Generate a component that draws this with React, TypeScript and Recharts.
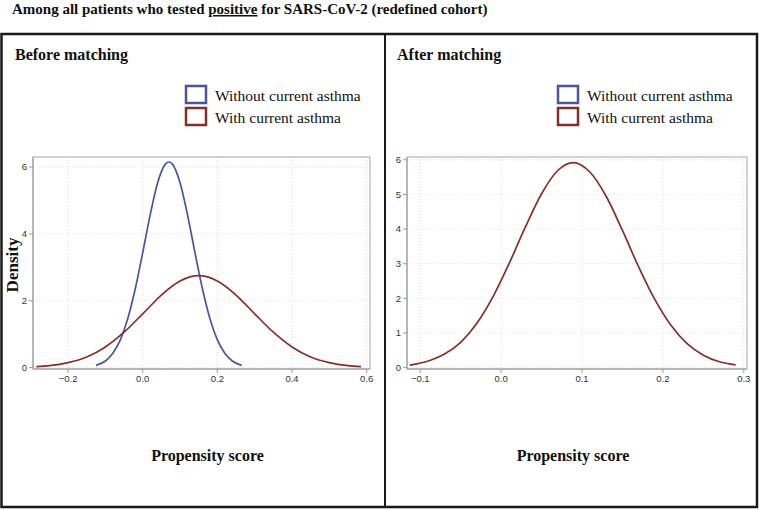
import { LineChart, Line, XAxis, YAxis, CartesianGrid, ReferenceArea } from 'recharts'

// Before matching: without current asthma (blue)
const BEFORE_WITHOUT_X = [-0.125, -0.1, -0.08, -0.06, -0.04, -0.02, 0.0, 0.02, 0.04, 0.06, 0.07, 0.08, 0.1, 0.12, 0.14, 0.16, 0.18, 0.2, 0.22, 0.24, 0.265]
const BEFORE_WITHOUT_Y = [0.07, 0.2, 0.43, 0.83, 1.47, 2.36, 3.44, 4.57, 5.53, 6.08, 6.15, 6.08, 5.53, 4.57, 3.44, 2.36, 1.47, 0.83, 0.43, 0.2, 0.07]

// Before matching: with current asthma (red)
const BEFORE_WITH_X = [-0.285, -0.25, -0.2, -0.15, -0.1, -0.05, 0.0, 0.05, 0.1, 0.15, 0.2, 0.25, 0.3, 0.35, 0.4, 0.45, 0.5, 0.55, 0.585]
const BEFORE_WITH_Y = [0.03, 0.06, 0.15, 0.32, 0.62, 1.06, 1.61, 2.17, 2.59, 2.75, 2.59, 2.17, 1.61, 1.06, 0.62, 0.32, 0.15, 0.06, 0.03]

// After matching: both groups overlap, only red visible
const AFTER_X = [-0.113, -0.09, -0.07, -0.05, -0.03, -0.01, 0.01, 0.03, 0.05, 0.07, 0.089, 0.11, 0.13, 0.15, 0.17, 0.19, 0.21, 0.23, 0.25, 0.27, 0.29]
const AFTER_Y = [0.07, 0.19, 0.39, 0.73, 1.28, 2.05, 3.01, 4.06, 5.02, 5.69, 5.92, 5.64, 4.94, 3.96, 2.91, 1.97, 1.22, 0.69, 0.36, 0.17, 0.08]

const BEFORE_X_TICKS = [-0.2, 0, 0.2, 0.4, 0.6]
const BEFORE_Y_TICKS = [0, 2, 4, 6]
const AFTER_X_TICKS = [-0.1, 0, 0.1, 0.2, 0.3]
const AFTER_Y_TICKS = [0, 1, 2, 3, 4, 5, 6]

const LEGEND_LABELS = ['Without current asthma', 'With current asthma']
const PANEL_TITLES = ['Before matching', 'After matching']

const BLUE = '#4b559c'
const RED = '#84302a'
const SERIF = '"Liberation Serif", "Times New Roman", serif'

const toPoints = (xs: number[], ys: number[]) => xs.map((x, i) => ({ x, y: ys[i] }))

const fmt = (v: number) => (v < 0 ? '\u2212' + Math.abs(v).toFixed(1) : v.toFixed(1))

const tickStyle = { fontSize: 9.5, fill: '#333', fontFamily: '"Liberation Sans", Arial, sans-serif' }

interface PanelProps {
  left: number
  marginRight: number
  xDomain: [number, number]
  yDomain: [number, number]
  xTicks: number[]
  yTicks: number[]
  series: { data: { x: number; y: number }[]; color: string }[]
}

function Panel({ left, marginRight, xDomain, yDomain, xTicks, yTicks, series }: PanelProps) {
  return (
    <div style={{ position: 'absolute', left, top: 140 }}>
      <LineChart width={380} height={260} margin={{ top: 17, right: marginRight, left: 0, bottom: 0 }}>
        <CartesianGrid stroke="#dedede" strokeDasharray="1 2" />
        <XAxis
          type="number"
          dataKey="x"
          domain={xDomain}
          ticks={xTicks}
          allowDataOverflow
          tickFormatter={fmt}
          tick={tickStyle}
          tickSize={4}
          tickMargin={2}
          height={31}
          stroke="#999"
        />
        <YAxis
          type="number"
          dataKey="y"
          domain={yDomain}
          ticks={yTicks}
          allowDataOverflow
          tick={tickStyle}
          tickSize={4}
          tickMargin={2}
          width={33}
          stroke="#999"
        />
        <ReferenceArea
          x1={xDomain[0]}
          x2={xDomain[1]}
          y1={yDomain[0]}
          y2={yDomain[1]}
          fill="none"
          stroke="#aaa"
          strokeWidth={1}
          ifOverflow="visible"
        />
        {series.map((s, i) => (
          <Line
            key={i}
            data={s.data}
            dataKey="y"
            type="monotone"
            stroke={s.color}
            strokeWidth={1.7}
            dot={false}
            isAnimationActive={false}
          />
        ))}
      </LineChart>
    </div>
  )
}

function LegendBlock({ x }: { x: number }) {
  const colors = [BLUE, RED]
  return (
    <g>
      {LEGEND_LABELS.map((label, i) => (
        <g key={label}>
          <rect x={x} y={86 + i * 22} width={20} height={17} fill="none" stroke={colors[i]} strokeWidth={2.5} />
          <text x={x + 29} y={100.5 + i * 22} fontFamily={SERIF} fontSize={15.5} fill="#111">
            {label}
          </text>
        </g>
      ))}
    </g>
  )
}

export default function App() {
  return (
    <div style={{ position: 'absolute', left: 0, top: 0, width: 759, height: 510, background: '#fff' }}>
      <Panel
        left={0}
        marginRight={10}
        xDomain={[-0.294, 0.609]}
        yDomain={[-0.04, 6.3]}
        xTicks={BEFORE_X_TICKS}
        yTicks={BEFORE_Y_TICKS}
        series={[
          { data: toPoints(BEFORE_WITHOUT_X, BEFORE_WITHOUT_Y), color: BLUE },
          { data: toPoints(BEFORE_WITH_X, BEFORE_WITH_Y), color: RED },
        ]}
      />
      <Panel
        left={374}
        marginRight={7}
        xDomain={[-0.1164, 0.304]}
        yDomain={[-0.04, 6.08]}
        xTicks={AFTER_X_TICKS}
        yTicks={AFTER_Y_TICKS}
        series={[{ data: toPoints(AFTER_X, AFTER_Y), color: RED }]}
      />
      <svg width={759} height={510} style={{ position: 'absolute', left: 0, top: 0, pointerEvents: 'none' }}>
        <text x={12} y={14} fontFamily={SERIF} fontSize={15} fontWeight="bold" fill="#111">
          Among all patients who tested{' '}
          <tspan textDecoration="underline" style={{ textDecoration: 'underline' }}>positive</tspan> for SARS-CoV-2 (redefined cohort)
        </text>
        <rect x={1.5} y={34} width={755.5} height={473} fill="none" stroke="#1a1a1a" strokeWidth={2.5} />
        <line x1={385} y1={34} x2={385} y2={507} stroke="#1a1a1a" strokeWidth={2} />
        <text x={15} y={60} fontFamily={SERIF} fontSize={16} fontWeight="bold" fill="#111">
          {PANEL_TITLES[0]}
        </text>
        <text x={397} y={60} fontFamily={SERIF} fontSize={16} fontWeight="bold" fill="#111">
          {PANEL_TITLES[1]}
        </text>
        <LegendBlock x={186} />
        <LegendBlock x={558} />
        <text
          x={0}
          y={0}
          transform="translate(18,265) rotate(-90)"
          textAnchor="middle"
          fontFamily={SERIF}
          fontSize={17}
          fontWeight="bold"
          fill="#111"
        >
          Density
        </text>
        <text x={207.5} y={461} textAnchor="middle" fontFamily={SERIF} fontSize={16} fontWeight="bold" fill="#111">
          Propensity score
        </text>
        <text x={573} y={461} textAnchor="middle" fontFamily={SERIF} fontSize={16} fontWeight="bold" fill="#111">
          Propensity score
        </text>
      </svg>
    </div>
  )
}
